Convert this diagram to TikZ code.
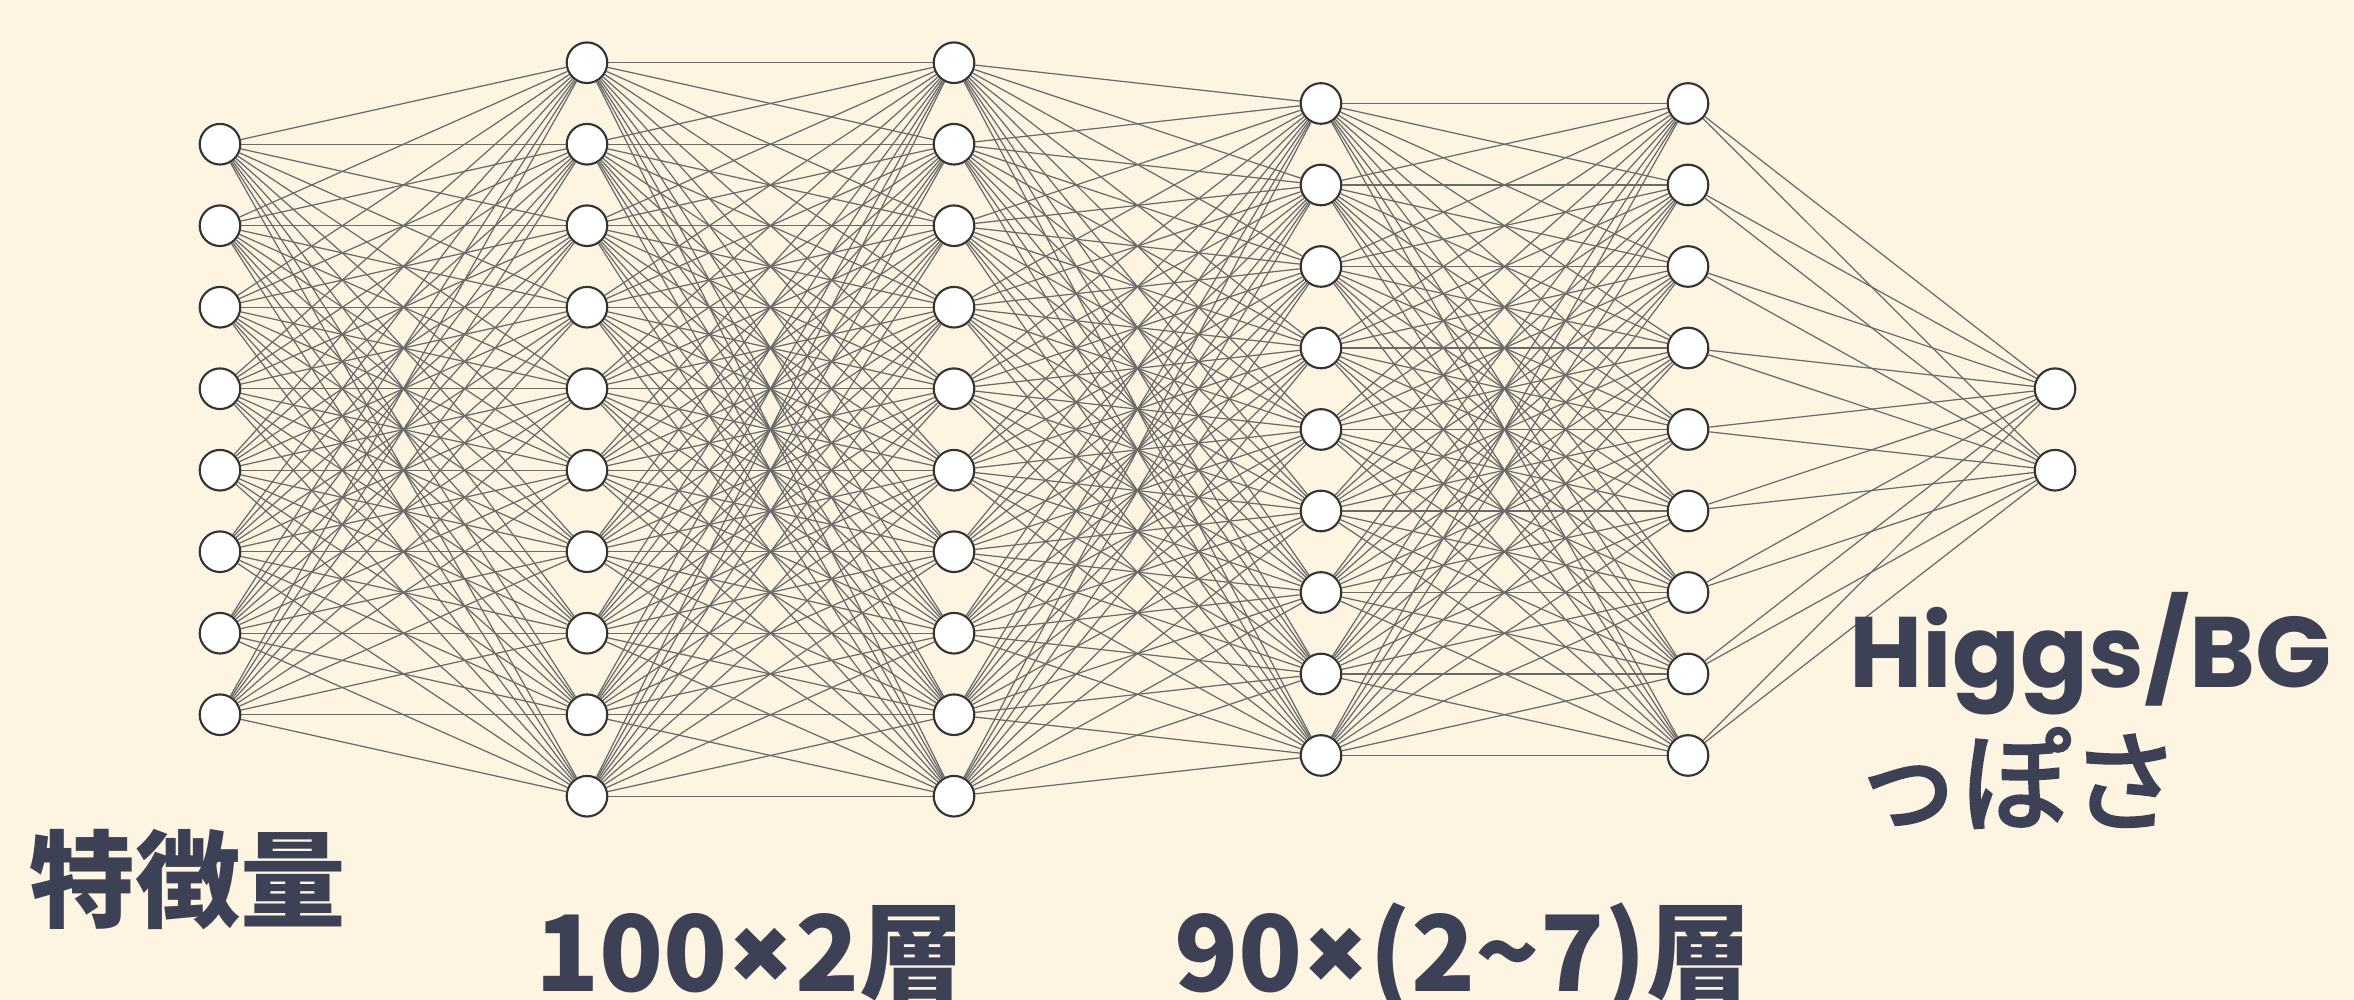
\documentclass[tikz,border=0pt]{standalone}
\usepackage{fontspec}
\newfontfamily\jpfont{Noto Sans CJK JP}
\newfontfamily\jpmedium{Noto Sans CJK JP}[FakeBold=3]
\newfontfamily\latinfont{Poppins}
\usepackage{xcolor}
\usepackage{tikz}
\usetikzlibrary{calc}
\definecolor{paper}{HTML}{FDF4E2}
\definecolor{ink}{HTML}{3D4156}
\definecolor{wiregray}{HTML}{6A6A6A}
\newcommand{\timesmark}{{\latinfont\bfseries ×}}
\tikzset{
  neuron/.style={circle, draw=black!80, line width=0.6pt, fill=white, minimum size=0.406cm, inner sep=0pt},
  wire/.style={draw=wiregray, line width=0.35pt},
  bigtext/.style={text=ink, inner sep=0pt, font=\jpfont\bfseries\fontsize{30}{36}\selectfont}
}
\begin{document}
\begin{tikzpicture}
\useasboundingbox (0,0) rectangle (23.54,10);
\fill[paper] (0,0) rectangle (23.54,10);
% Layers of neurons
\foreach \l/\x/\n in {1/2.20/8, 2/5.87/10, 3/9.54/10, 4/13.21/9, 5/16.88/9, 6/20.55/2}
  \foreach \k in {1,...,\n}
    \node[neuron] (L\l-\k) at (\x, {5.705+((\n+1)/2-\k)*0.815}) {};
% Full connections between neighbouring layers
\foreach \a/\na/\b/\nb in {1/8/2/10, 2/10/3/10, 3/10/4/9, 4/9/5/9, 5/9/6/2}
  \foreach \i in {1,...,\na}
    \foreach \j in {1,...,\nb}
      \draw[wire] (L\a-\i) -- (L\b-\j);
% Labels
\node[bigtext, anchor=base west] (feat) at (0.29,0.80) {特徴量};
\node[bigtext, anchor=base] (first) at (7.50,0.08) {100\timesmark 2層};
\node[bigtext, anchor=base] (second) at (14.63,0.08) {90\timesmark(2\textasciitilde 7)層};
\node[bigtext, anchor=base west, font=\latinfont\bfseries\fontsize{28.5}{36}\selectfont] (out) at (18.49,3.12) {Higgs/BG};
\node[bigtext, anchor=base west, font=\jpmedium\fontsize{31}{36}\selectfont] (outjp) at (18.52,1.78) {っぽさ};
\end{tikzpicture}
\end{document}
